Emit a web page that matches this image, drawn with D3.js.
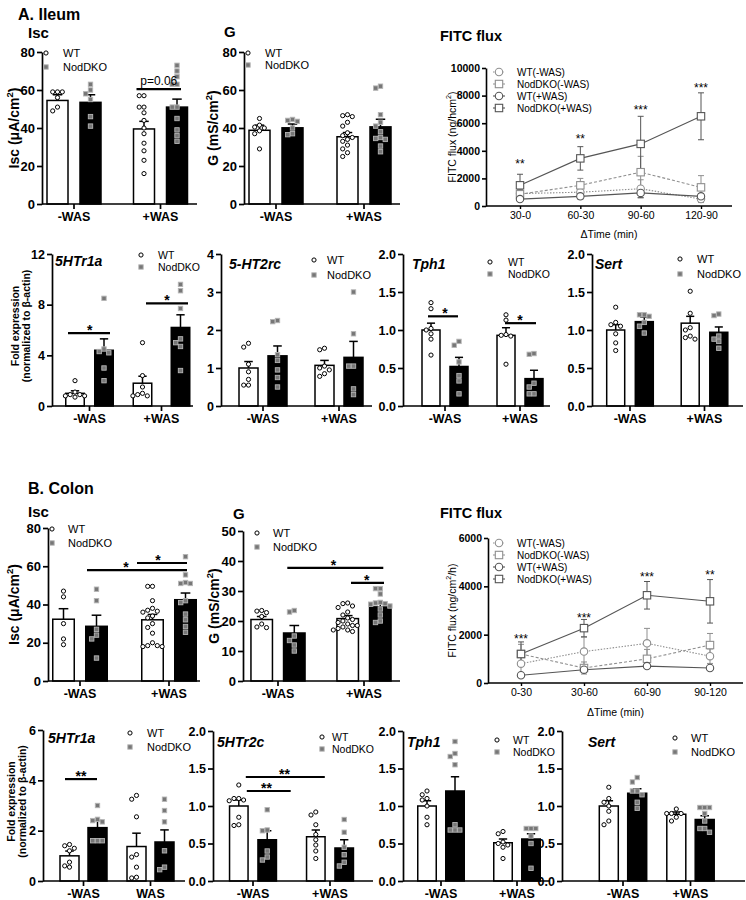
<!DOCTYPE html>
<html><head><meta charset="utf-8">
<script src="https://cdn.jsdelivr.net/npm/d3@7"></script>
<style>body{margin:0;background:#fff}svg{display:block}</style>
</head><body><svg id="c" width="746" height="900"></svg>
<script>
// ---------------- DATA ----------------
const groups = ["-WAS", "+WAS"];
const groupsColon2 = ["-WAS", "WAS"];
const genotypes = ["WT", "NodDKO"];
// order in mean/sem arrays: WT(-WAS), NodDKO(-WAS), WT(+WAS), NodDKO(+WAS)

// Ileum
const ileumIscMean = [54.5, 53.5, 39.5, 51];
const ileumIscSem = [3, 4, 4, 4.2];
const ileumIscPts = [[59,59,59,56,51,49],[63,60,58,55,46,41],[57,57,51,51,48,44,40,37,32,28,23,16],[73,70,67,63,63,51,51,45,39,36,33]];
const ileumIscTicks = [0,20,40,60,80];

const ileumGMean = [38.8, 40.1, 35.4, 40.6];
const ileumGSem = [2.7, 2, 2.2, 4];
const ileumGPts = [[45,41.5,40.5,40,38.5,37,29],[44.5,44,43.5,40,37,36.5],[47,46.5,46,43,41,37.5,36,35,34,33,31,29,27,25],[62,61,47,43,41,38,35,34.5,34,30.5,27.5]];
const ileumGTicks = [0,20,40,60,80];

const ileum5HTr1aMean = [1.0, 4.4, 1.8, 6.2];
const ileum5HTr1aSem = [0.2, 0.9, 0.55, 1.0];
const ileum5HTr1aPts = [[2.0,1.1,0.9,0.9,0.8,0.8,0.7],[8.5,4.5,4.3,4.2,3.0,2.0],[5.0,2.4,1.5,1.0,0.9,0.8,0.8],[9.6,9.1,7.7,5.3,5.0,4.7,2.8]];
const ileum5HTr1aTicks = [0,4,8,12];

const ileum5HT2rcMean = [1.0, 1.32, 1.07, 1.28];
const ileum5HT2rcSem = [0.17, 0.26, 0.13, 0.42];
const ileum5HT2rcPts = [[1.65,1.55,1.1,0.9,0.7,0.55,0.55],[2.25,2.22,1.35,1.2,0.95,0.75,0.5],[1.52,1.48,1.05,1.0,0.95,0.85,0.78],[3.0,1.9,1.05,1.05,0.45,0.3]];
const ileum5HT2rcTicks = [0,1,2,3,4];

const ileumTph1Mean = [1.0, 0.52, 0.93, 0.36];
const ileumTph1Sem = [0.09, 0.12, 0.1, 0.11];
const ileumTph1Pts = [[1.36,1.28,1.02,1.0,0.95,0.88,0.67],[0.85,0.8,0.58,0.4,0.33,0.16],[1.2,1.13,0.94,0.93,0.92,0.55],[0.69,0.68,0.3,0.25,0.16,0.16]];

const ileumSertMean = [1.0, 1.11, 1.09, 0.97];
const ileumSertSem = [0.07, 0.06, 0.09, 0.07];
const ileumSertPts = [[1.3,1.1,1.07,1.05,0.95,0.83,0.73],[1.2,1.2,1.18,1.1,1.05,0.96],[1.51,1.22,1.03,1.0,0.92,0.9,0.88],[1.21,1.19,0.92,0.88,0.85,0.76]];
const foldTicks2 = [0,0.5,1.0,1.5,2.0];

const ileumFitcTimes = ["30-0","60-30","90-60","120-90"];
const ileumFitcWTminus = [900, 1000, 1250, 500];
const ileumFitcWTminusErr = [300, 250, 650, 250];
const ileumFitcKOminus = [850, 1500, 2450, 1350];
const ileumFitcKOminusErr = [300, 500, 1150, 850];
const ileumFitcWTplus = [500, 700, 950, 700];
const ileumFitcWTplusErr = [100, 200, 350, 200];
const ileumFitcKOplus = [1500, 3450, 4500, 6500];
const ileumFitcKOplusErr = [800, 850, 2000, 1700];
const ileumFitcStars = ["**","**","***","***"];
const ileumFitcStarY = [3200, 5000, 7100, 8700];
const ileumFitcTicks = [0,2000,4000,6000,8000,10000];

// Colon
const colonIscMean = [32.3, 28.6, 32, 42.5];
const colonIscSem = [5.5, 5.8, 2.8, 3.5];
const colonIscPts = [[47,44,30,22,19],[48,42,27,24,22,12],[49.5,49.5,42,38,37,36.5,36,34,33,30,28,25,20,18.5,18.5,18,18],[65,55.5,51.5,51,51,42,41,35,32,28.5,25.5]];
const colonIscTicks = [0,20,40,60,80];

const colonGMean = [20.5, 16, 20.8, 24.7];
const colonGSem = [1.0, 2.5, 1.0, 1.1];
const colonGPts = [[23.5,23.3,22.8,21.5,19,18,17.8],[23.5,23,15,13.5,12,10],[26,25.8,25,24.5,23,22,21,20.5,20,19.5,19,18.5,18.5,18,17.5,17,17,16.5],[30.8,30.8,29,26.2,26,25.8,25.6,25,24,22,20,19.5]];
const colonGTicks = [0,10,20,30,40,50];

const colon5HTr1aMean = [1.0, 2.12, 1.37, 1.55];
const colon5HTr1aSem = [0.19, 0.28, 0.53, 0.48];
const colon5HTr1aPts = [[1.45,1.4,1.3,1.2,0.75,0.6,0.55],[3.0,2.45,2.4,2.35,1.6,1.6,1.6],[3.4,3.25,2.55,1.05,0.95,0.55,0.15,0.12],[3.25,2.8,2.35,1.2,0.55,0.45]];
const colon5HTr1aTicks = [0,2,4,6];

const colon5HTr2cMean = [1.0, 0.55, 0.59, 0.44];
const colon5HTr2cSem = [0.08, 0.12, 0.09, 0.11];
const colon5HTr2cPts = [[1.28,1.1,1.1,1.08,1.07,0.85,0.75,0.74],[0.95,0.68,0.67,0.4,0.32,0.28],[0.92,0.88,0.75,0.62,0.55,0.48,0.4,0.3],[0.82,0.65,0.45,0.35,0.25,0.2]];

const colonTph1Mean = [1.0, 1.2, 0.51, 0.56];
const colonTph1Sem = [0.07, 0.19, 0.05, 0.07];
const colonTph1Pts = [[1.2,1.15,1.1,1.08,1.0,0.85,0.75],[1.86,1.7,1.66,1.55,0.75,0.68,0.68,0.68],[0.66,0.63,0.52,0.5,0.48,0.45,0.3],[0.7,0.7,0.7,0.6,0.5,0.17]];

const colonSertMean = [1.0, 1.17, 0.89, 0.82];
const colonSertSem = [0.07, 0.06, 0.03, 0.05];
const colonSertPts = [[1.25,1.1,1.05,1.0,0.93,0.8,0.75],[1.38,1.32,1.2,1.2,1.15,1.05,0.97],[0.96,0.9,0.9,0.9,0.85,0.8],[0.98,0.98,0.98,0.9,0.8,0.7,0.7,0.65]];

const colonFitcTimes = ["0-30","30-60","60-90","90-120"];
const colonFitcWTminus = [800, 1300, 1640, 1110];
const colonFitcWTminusErr = [400, 600, 620, 300];
const colonFitcKOminus = [1200, 620, 1000, 1570];
const colonFitcKOminusErr = [400, 250, 390, 480];
const colonFitcWTplus = [320, 550, 700, 620];
const colonFitcWTplusErr = [80, 100, 100, 60];
const colonFitcKOplus = [1200, 2270, 3630, 3380];
const colonFitcKOplusErr = [500, 360, 570, 900];
const colonFitcStars = ["***","***","***","**"];
const colonFitcStarY = [1900, 2780, 4450, 4550];
const colonFitcTicks = [0,2000,4000,6000];

const fitcSeriesNames = ["WT(-WAS)","NodDKO(-WAS)","WT(+WAS)","NodDKO(+WAS)"];

// ---------------- DRAWING ----------------
const FONT = "'Liberation Sans', Arial, Helvetica, sans-serif";
const svg = d3.select("#c");
const fmtInt = d3.format("d"), fmt1 = d3.format(".1f");

function txt(g, x, y, s, o = {}) {
  return g.append("text").attr("x", x).attr("y", y).text(s)
    .attr("font-family", FONT).attr("font-size", o.fs || 12)
    .attr("font-weight", o.bold ? "bold" : "normal")
    .attr("font-style", o.italic ? "italic" : "normal")
    .attr("text-anchor", o.anchor || "start").attr("fill", o.fill || "#000");
}

function rotLabel(g, x, cy, parts, fs, bold) {
  const t = g.append("text")
    .attr("transform", `translate(${x + fs * 0.35},${cy}) rotate(-90)`)
    .attr("text-anchor", "middle").attr("font-family", FONT)
    .attr("font-size", fs).attr("font-weight", bold ? "bold" : "normal");
  let pending = 0;
  parts.forEach(p => {
    if (typeof p === "string") {
      const ts = t.append("tspan").text(p);
      if (pending) { ts.attr("dy", pending); pending = 0; }
    } else {
      t.append("tspan").attr("dy", -fs * 0.4).attr("font-size", fs * 0.68).text(p.sup);
      pending = fs * 0.4;
    }
  });
  return t;
}

function swarm(vals, y, d, step) {
  const placed = [];
  const sorted = vals.map(v => ({ v, py: y(v) })).sort((a, b) => a.py - b.py);
  sorted.forEach(p => {
    for (let j = 0; j < 30; j++) {
      const dx = (j % 2 === 1 ? -1 : 1) * Math.ceil(j / 2) * step;
      if (placed.every(q => Math.hypot(q.dx - dx, q.py - p.py) >= d)) { placed.push({ dx, py: p.py }); break; }
    }
  });
  return placed;
}

function drawBarPanel(p, d) {
  const g = svg.append("g");
  const y = d3.scaleLinear().domain([0, d.yMax]).range([p.B, p.T]);
  const step = p.c2 - p.c1;
  const xg = d3.scaleBand().domain([0, 1]).range([p.c1 - step / 2, p.c2 + step / 2]);
  const xi = d3.scalePoint().domain(genotypes).range([-1, 1]);
  const offs = Array.isArray(p.off) ? p.off : [p.off, p.off];
  const bx = (gi, k) => xg(gi) + xg.bandwidth() / 2 + xi(genotypes[k]) * offs[gi];

  const bars = [];
  for (let gi = 0; gi < 2; gi++) for (let k = 0; k < 2; k++) {
    const i = gi * 2 + k;
    bars.push({ gi, k, mean: d.means[i], sem: d.sems[i], pts: d.pts[i] });
  }
  g.selectAll("rect.bar").data(bars).join("rect").attr("class", "bar")
    .attr("x", b => bx(b.gi, b.k) - p.barW / 2).attr("width", p.barW)
    .attr("y", b => y(b.mean)).attr("height", b => y(0) - y(b.mean))
    .attr("fill", b => b.k === 0 ? "#fff" : "#000").attr("stroke", "#000").attr("stroke-width", 1.5);
  const cap = p.barW * 0.45;
  g.selectAll("line.eb").data(bars).join("line").attr("class", "eb")
    .attr("x1", b => bx(b.gi, b.k)).attr("x2", b => bx(b.gi, b.k))
    .attr("y1", b => y(b.mean)).attr("y2", b => y(b.mean + b.sem)).attr("stroke", "#000").attr("stroke-width", 1.5);
  g.selectAll("line.cap").data(bars).join("line").attr("class", "cap")
    .attr("x1", b => bx(b.gi, b.k) - cap / 2).attr("x2", b => bx(b.gi, b.k) + cap / 2)
    .attr("y1", b => y(b.mean + b.sem)).attr("y2", b => y(b.mean + b.sem)).attr("stroke", "#000").attr("stroke-width", 1.5);
  bars.forEach(b => {
    const cx = bx(b.gi, b.k);
    const pl = swarm(b.pts, y, 4.8, 4.8);
    pl.forEach(q => {
      if (b.k === 0) g.append("circle").attr("cx", cx + q.dx).attr("cy", q.py).attr("r", 2.1)
        .attr("fill", "#fff").attr("stroke", "#000").attr("stroke-width", 1);
      else g.append("rect").attr("x", cx + q.dx - 2.2).attr("y", q.py - 2.2).attr("width", 4.4).attr("height", 4.4)
        .attr("fill", "#777").attr("stroke", "#b5b5b5").attr("stroke-width", 0.9);
    });
  });
  // axes
  g.append("line").attr("x1", p.L).attr("x2", p.R).attr("y1", p.B).attr("y2", p.B).attr("stroke", "#000").attr("stroke-width", 1.7);
  const ya = g.append("g").attr("transform", `translate(${p.L},0)`)
    .call(d3.axisLeft(y).tickValues(d.ticks).tickFormat(d.fmt).tickSize(5).tickSizeOuter(0).tickPadding(2));
  ya.attr("font-family", FONT).attr("font-size", p.tickFs).attr("font-weight", "bold");
  ya.selectAll("path,line").attr("stroke", "#000").attr("stroke-width", 1.7);
  ya.selectAll("text").attr("fill", "#000");
  const xa = g.append("g").attr("transform", `translate(0,${p.B})`)
    .call(d3.axisBottom(xg).tickFormat(i => d.cats[i]).tickSize(5).tickSizeOuter(0).tickPadding(3));
  xa.select(".domain").remove();
  xa.attr("font-family", FONT).attr("font-size", p.catFs).attr("font-weight", "bold");
  xa.selectAll("line").attr("stroke", "#000").attr("stroke-width", 1.7);
  xa.selectAll("text").attr("fill", "#000");
  txt(g, p.title.x, p.title.y, d.title, { fs: p.titleFs, bold: true, italic: p.italic });
  if (d.ylab) rotLabel(g, p.ylabX, (p.T + p.B) / 2, d.ylab, p.ylabFs, true);
  if (d.ylab2) {
    rotLabel(g, p.ylabX, (p.T + p.B) / 2 - 4, [d.ylab2[0]], p.ylabFs, true);
    rotLabel(g, p.ylabX2, (p.T + p.B) / 2 - 4, [d.ylab2[1]], p.ylabFs, true);
  }
  const lg = p.leg;
  g.append("circle").attr("cx", lg.x).attr("cy", lg.y1).attr("r", 2.1).attr("fill", "#fff").attr("stroke", "#000").attr("stroke-width", 1);
  g.append("rect").attr("x", lg.x - 2.2).attr("y", lg.y2 - 2.2).attr("width", 4.4).attr("height", 4.4).attr("fill", "#777").attr("stroke", "#b5b5b5").attr("stroke-width", 0.9);
  txt(g, lg.tx, lg.y1 + lg.fs * 0.36, genotypes[0], { fs: lg.fs });
  txt(g, lg.tx, lg.y2 + lg.fs * 0.36, genotypes[1], { fs: lg.fs });
  (d.annot || []).forEach(a => {
    const x1 = bx(a.a[0], a.a[1]) - a.pad[0], x2 = bx(a.b[0], a.b[1]) + a.pad[1];
    const yy = y(a.y);
    g.append("line").attr("x1", x1).attr("x2", x2).attr("y1", yy).attr("y2", yy).attr("stroke", "#000").attr("stroke-width", 2.2);
    const tx = x1 + (x2 - x1) * a.frac;
    if (a.plain) txt(g, tx, yy - 4, a.label, { fs: 12, anchor: "middle" });
    else txt(g, tx, yy + 2, a.label, { fs: 14, bold: true, anchor: "middle" });
  });
}

const fitcStyles = [
  { shape: "circle", color: "#8f8f8f", dash: "1.5,1.5" },
  { shape: "square", color: "#8f8f8f", dash: "3,2" },
  { shape: "circle", color: "#555", dash: null },
  { shape: "square", color: "#555", dash: null }
];

function marker(g, shape, x, y, color) {
  if (shape === "circle") g.append("circle").attr("cx", x).attr("cy", y).attr("r", 3.7).attr("fill", "#fff").attr("stroke", color).attr("stroke-width", 1.1);
  else g.append("rect").attr("x", x - 3.7).attr("y", y - 3.7).attr("width", 7.4).attr("height", 7.4).attr("fill", "#fff").attr("stroke", color).attr("stroke-width", 1.1);
}

function drawFitc(p, d) {
  const g = svg.append("g");
  const y = d3.scaleLinear().domain([0, d.yMax]).range([p.B, p.T]);
  const x = d3.scalePoint().domain(d.times).range([p.x0, p.x1]);
  g.append("line").attr("x1", p.L).attr("x2", p.R).attr("y1", p.B).attr("y2", p.B).attr("stroke", "#000").attr("stroke-width", 1.6);
  const ya = g.append("g").attr("transform", `translate(${p.L},0)`)
    .call(d3.axisLeft(y).tickValues(d.ticks).tickFormat(fmtInt).tickSize(4).tickSizeOuter(0).tickPadding(2));
  ya.attr("font-family", FONT).attr("font-size", 10.5).attr("font-weight", "bold");
  ya.selectAll("path,line").attr("stroke", "#000").attr("stroke-width", 1.6);
  ya.selectAll("text").attr("fill", "#000");
  const xa = g.append("g").attr("transform", `translate(0,${p.B})`)
    .call(d3.axisBottom(x).tickSize(3).tickSizeOuter(0).tickPadding(3));
  xa.select(".domain").remove();
  xa.attr("font-family", FONT).attr("font-size", 10.5);
  xa.selectAll("line").attr("stroke", "#000").attr("stroke-width", 1.4);
  xa.selectAll("text").attr("fill", "#000");
  const line = d3.line().x((v, i) => x(d.times[i])).y(v => y(v));
  d.series.forEach((s, si) => {
    const st = fitcStyles[si];
    s.vals.forEach((v, i) => {
      const xx = x(d.times[i]);
      g.append("line").attr("x1", xx).attr("x2", xx).attr("y1", y(v - s.errs[i])).attr("y2", y(v + s.errs[i])).attr("stroke", st.color).attr("stroke-width", 1);
      [v - s.errs[i], v + s.errs[i]].forEach(e => g.append("line").attr("x1", xx - 3).attr("x2", xx + 3).attr("y1", y(e)).attr("y2", y(e)).attr("stroke", st.color).attr("stroke-width", 1));
    });
  });
  d.series.forEach((s, si) => {
    const st = fitcStyles[si];
    g.append("path").attr("d", line(s.vals)).attr("fill", "none").attr("stroke", st.color).attr("stroke-width", 1.1).attr("stroke-dasharray", st.dash);
  });
  d.series.forEach((s, si) => {
    const st = fitcStyles[si];
    s.vals.forEach((v, i) => marker(g, st.shape, x(d.times[i]), y(v), st.color));
  });
  d.stars.forEach((s, i) => txt(g, x(d.times[i]), y(d.starY[i]) + 6, s, { fs: 12, anchor: "middle" }));
  txt(g, p.title.x, p.title.y, "FITC flux", { fs: 14.5, bold: true });
  rotLabel(g, p.ylabX, (p.T + p.B) / 2, d.ylab, 10.5, false);
  txt(g, (p.L + p.R) / 2, p.xlabY, "\u0394Time (min)", { fs: 10.5, anchor: "middle" });
  d.series.forEach((s, si) => {
    const st = fitcStyles[si];
    const ly = p.leg.y0 + si * p.leg.dy;
    g.append("line").attr("x1", p.leg.lx0).attr("x2", p.leg.lx1).attr("y1", ly).attr("y2", ly).attr("stroke", st.color).attr("stroke-width", 1.1).attr("stroke-dasharray", st.dash);
    marker(g, st.shape, (p.leg.lx0 + p.leg.lx1) / 2, ly, st.color);
    txt(g, p.leg.tx, ly + 3.6, s.name, { fs: 10 });
  });
}

txt(svg, 18, 20, "A. Ileum", { fs: 16, bold: true });
txt(svg, 28, 494, "B. Colon", { fs: 16, bold: true });

const row1 = { tickFs: 13, catFs: 12.5, titleFs: 15, ylabFs: 14 };
const row2 = { tickFs: 12.5, catFs: 12.5, titleFs: 14, ylabFs: 10.5, italic: true };

// ---- Ileum row 1 ----
drawBarPanel({ ...row1, L: 42, R: 197, T: 52, B: 204, c1: 74, c2: 160.5, off: 16.5, barW: 21, title: { x: 28, y: 38 }, ylabX: 14,
  leg: { x: 46, y1: 53, y2: 67, tx: 63, fs: 11 } },
  { yMax: 80, ticks: ileumIscTicks, fmt: fmtInt, means: ileumIscMean, sems: ileumIscSem, pts: ileumIscPts, cats: groups, title: "Isc",
    ylab: ["Isc (\u03bcA/cm", { sup: "2" }, ")"],
    annot: [{ a: [1, 0], b: [1, 1], y: 60.5, pad: [7.5, 4], frac: 0.5, label: "p=0.06", plain: true }] });

drawBarPanel({ ...row1, L: 244, R: 400, T: 52, B: 204, c1: 276, c2: 364, off: 16.5, barW: 21, title: { x: 224, y: 37 }, ylabX: 213,
  leg: { x: 248, y1: 53, y2: 65, tx: 265, fs: 11 } },
  { yMax: 80, ticks: ileumGTicks, fmt: fmtInt, means: ileumGMean, sems: ileumGSem, pts: ileumGPts, cats: groups, title: "G",
    ylab: ["G (mS/cm", { sup: "2" }, ")"] });

drawFitc({ L: 486, R: 732, T: 68, B: 206, x0: 520, x1: 701, title: { x: 440, y: 41 }, ylabX: 452, xlabY: 238,
  leg: { lx0: 493, lx1: 505, tx: 517, y0: 72, dy: 12 } },
  { yMax: 10000, ticks: ileumFitcTicks, times: ileumFitcTimes, stars: ileumFitcStars, starY: ileumFitcStarY,
    ylab: ["FITC flux (ng/hcm", { sup: "2" }, ")"],
    series: [
      { name: fitcSeriesNames[0], vals: ileumFitcWTminus, errs: ileumFitcWTminusErr },
      { name: fitcSeriesNames[1], vals: ileumFitcKOminus, errs: ileumFitcKOminusErr },
      { name: fitcSeriesNames[2], vals: ileumFitcWTplus, errs: ileumFitcWTplusErr },
      { name: fitcSeriesNames[3], vals: ileumFitcKOplus, errs: ileumFitcKOplusErr }] });

// ---- Ileum row 2 ----
const foldLab = ["Fold expression", "(normalized to \u03b2-actin)"];
drawBarPanel({ ...row2, L: 52, R: 193, T: 254, B: 406, c1: 89.5, c2: 161.5, off: [14.5, 19], barW: 18.5, title: { x: 55, y: 266 }, ylabX: 15, ylabX2: 26,
  leg: { x: 141, y1: 255, y2: 267, tx: 158, fs: 10.5 } },
  { yMax: 12, ticks: ileum5HTr1aTicks, fmt: fmtInt, means: ileum5HTr1aMean, sems: ileum5HTr1aSem, pts: ileum5HTr1aPts, cats: groups, title: "5HTr1a",
    ylab2: foldLab,
    annot: [{ a: [0, 0], b: [0, 1], y: 5.75, pad: [7, 6], frac: 0.52, label: "*" },
            { a: [1, 0], b: [1, 1], y: 8.1, pad: [-3.5, 7.5], frac: 0.5, label: "*" }] });

drawBarPanel({ ...row2, L: 221, R: 372, T: 254, B: 406, c1: 263, c2: 339, off: 14.5, barW: 19, title: { x: 229, y: 269 },
  leg: { x: 314, y1: 260, y2: 275, tx: 327, fs: 11 } },
  { yMax: 4, ticks: ileum5HT2rcTicks, fmt: fmtInt, means: ileum5HT2rcMean, sems: ileum5HT2rcSem, pts: ileum5HT2rcPts, cats: groups, title: "5-HT2rc" });

drawBarPanel({ ...row2, L: 403, R: 550, T: 254, B: 406, c1: 445, c2: 520, off: 14, barW: 18, title: { x: 412, y: 269 },
  leg: { x: 490, y1: 262, y2: 274, tx: 508, fs: 10.5 } },
  { yMax: 2, ticks: foldTicks2, fmt: fmt1, means: ileumTph1Mean, sems: ileumTph1Sem, pts: ileumTph1Pts, cats: groups, title: "Tph1",
    annot: [{ a: [0, 0], b: [0, 1], y: 1.18, pad: [3, -1], frac: 0.57, label: "*" },
            { a: [1, 0], b: [1, 1], y: 1.09, pad: [1, 2], frac: 0.48, label: "*" }] });

drawBarPanel({ ...row2, L: 592, R: 743, T: 254, B: 406, c1: 630, c2: 704.5, off: 14.3, barW: 18, title: { x: 595, y: 269 },
  leg: { x: 680, y1: 259, y2: 274, tx: 697, fs: 11 } },
  { yMax: 2, ticks: foldTicks2, fmt: fmt1, means: ileumSertMean, sems: ileumSertSem, pts: ileumSertPts, cats: groups, title: "Sert" });

// ---- Colon row 1 ----
drawBarPanel({ ...row1, L: 48, R: 200, T: 528, B: 681, c1: 80, c2: 169, off: 16.5, barW: 21.5, title: { x: 28, y: 517 }, ylabX: 14,
  leg: { x: 52, y1: 529, y2: 543, tx: 68, fs: 11 } },
  { yMax: 80, ticks: colonIscTicks, fmt: fmtInt, means: colonIscMean, sems: colonIscSem, pts: colonIscPts, cats: groups, title: "Isc",
    ylab: ["Isc (\u03bcA/cm", { sup: "2" }, ")"],
    annot: [{ a: [0, 1], b: [1, 1], y: 58, pad: [9.5, 1.5], frac: 0.39, label: "*" },
            { a: [1, 0], b: [1, 1], y: 61.7, pad: [15.5, 1.5], frac: 0.42, label: "*" }] });

drawBarPanel({ ...row1, L: 243, R: 400, T: 531, B: 681, c1: 278, c2: 364, off: 16.3, barW: 21.5, title: { x: 233, y: 519 }, ylabX: 214,
  leg: { x: 257, y1: 533, y2: 547, tx: 273, fs: 11 } },
  { yMax: 50, ticks: colonGTicks, fmt: fmtInt, means: colonGMean, sems: colonGSem, pts: colonGPts, cats: groups, title: "G",
    ylab: ["G (mS/cm", { sup: "2" }, ")"],
    annot: [{ a: [0, 1], b: [1, 1], y: 37.7, pad: [7, 3], frac: 0.48, label: "*" },
            { a: [1, 0], b: [1, 1], y: 32.7, pad: [-3.3, 3.7], frac: 0.48, label: "*" }] });

drawFitc({ L: 488, R: 743, T: 538, B: 683, x0: 521, x1: 710, title: { x: 440, y: 518 }, ylabX: 452, xlabY: 716,
  leg: { lx0: 493, lx1: 505, tx: 517, y0: 543, dy: 12 } },
  { yMax: 6000, ticks: colonFitcTicks, times: colonFitcTimes, stars: colonFitcStars, starY: colonFitcStarY,
    ylab: ["FITC flux (ng/cm", { sup: "2" }, "/h)"],
    series: [
      { name: fitcSeriesNames[0], vals: colonFitcWTminus, errs: colonFitcWTminusErr },
      { name: fitcSeriesNames[1], vals: colonFitcKOminus, errs: colonFitcKOminusErr },
      { name: fitcSeriesNames[2], vals: colonFitcWTplus, errs: colonFitcWTplusErr },
      { name: fitcSeriesNames[3], vals: colonFitcKOplus, errs: colonFitcKOplusErr }] });

// ---- Colon row 2 ----
drawBarPanel({ ...row2, L: 43, R: 185, T: 730, B: 881, c1: 83.5, c2: 150.5, off: 14, barW: 19, title: { x: 48, y: 743 }, ylabX: 11, ylabX2: 22,
  leg: { x: 130, y1: 733, y2: 747, tx: 147, fs: 11 } },
  { yMax: 6, ticks: colon5HTr1aTicks, fmt: fmtInt, means: colon5HTr1aMean, sems: colon5HTr1aSem, pts: colon5HTr1aPts, cats: groupsColon2, title: "5HTr1a",
    ylab2: foldLab,
    annot: [{ a: [0, 0], b: [0, 1], y: 4.05, pad: [4.5, -0.5], frac: 0.5, label: "**" }] });

drawBarPanel({ ...row2, L: 213, R: 373, T: 731, B: 881, c1: 253, c2: 330, off: 14.2, barW: 18.5, title: { x: 217, y: 747 },
  leg: { x: 322, y1: 737, y2: 749, tx: 332, fs: 10.5 } },
  { yMax: 2, ticks: foldTicks2, fmt: fmt1, means: colon5HTr2cMean, sems: colon5HTr2cSem, pts: colon5HTr2cPts, cats: groups, title: "5HTr2c",
    annot: [{ a: [0, 0], b: [0, 1], y: 1.2, pad: [-8, 23.5], frac: 0.45, label: "**" },
            { a: [0, 0], b: [1, 0], y: 1.387, pad: [-7, 9], frac: 0.49, label: "**" }] });

drawBarPanel({ ...row2, L: 403, R: 550, T: 731, B: 881, c1: 441, c2: 517, off: 14, barW: 18.5, title: { x: 407, y: 747 },
  leg: { x: 497, y1: 740, y2: 752, tx: 513, fs: 10.5 } },
  { yMax: 2, ticks: foldTicks2, fmt: fmt1, means: colonTph1Mean, sems: colonTph1Sem, pts: colonTph1Pts, cats: groups, title: "Tph1" });

drawBarPanel({ ...row2, L: 562, R: 745, T: 731, B: 881, c1: 623, c2: 690.5, off: 14.2, barW: 19, title: { x: 588, y: 747 },
  leg: { x: 675, y1: 738, y2: 752, tx: 691, fs: 11 } },
  { yMax: 2, ticks: foldTicks2, fmt: fmt1, means: colonSertMean, sems: colonSertSem, pts: colonSertPts, cats: groups, title: "Sert" });
</script></body></html>
